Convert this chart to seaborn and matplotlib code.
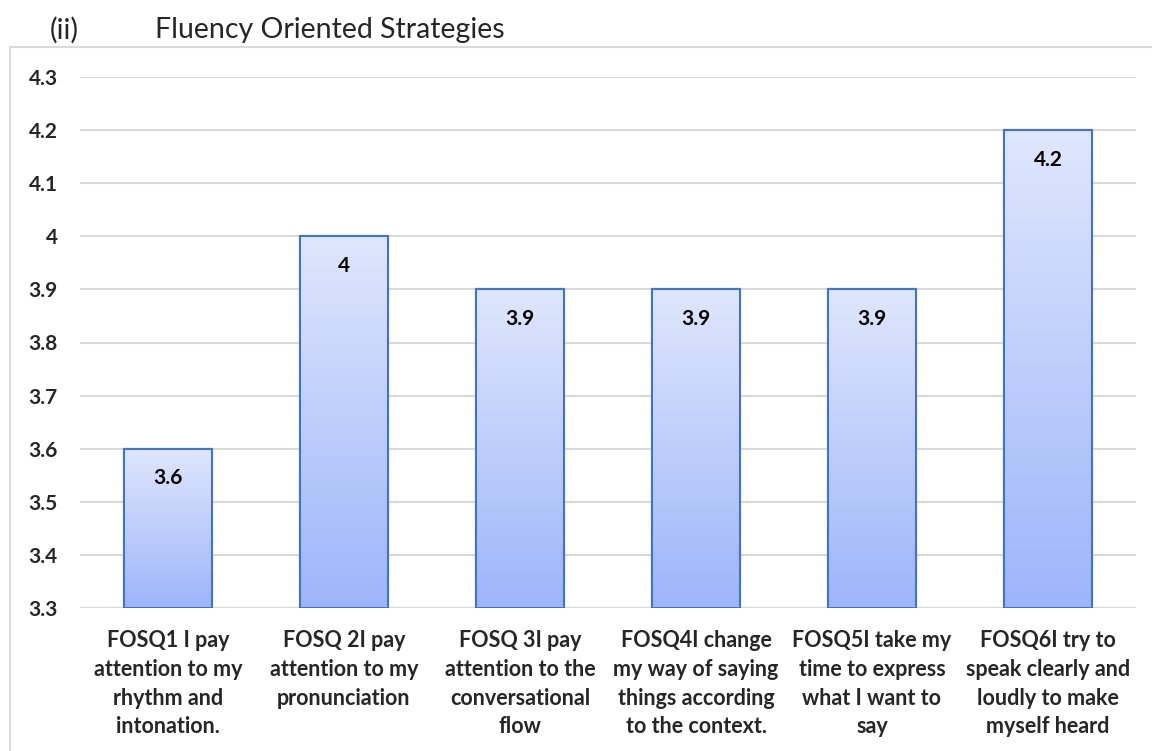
import numpy as np
import pandas as pd
import matplotlib
matplotlib.use('Agg')
import matplotlib.pyplot as plt
import seaborn as sns
from matplotlib.patches import Rectangle
from matplotlib.ticker import FuncFormatter

# data
questions = [
    'FOSQ1 I pay\nattention to my\nrhythm and\nintonation.',
    'FOSQ 2I pay\nattention to my\npronunciation',
    'FOSQ 3I pay\nattention to the\nconversational\nflow',
    'FOSQ4I change\nmy way of saying\nthings according\nto the context.',
    'FOSQ5I take my\ntime to express\nwhat I want to\nsay',
    'FOSQ6I try to\nspeak clearly and\nloudly to make\nmyself heard',
]
means = [3.6, 4.0, 3.9, 3.9, 3.9, 4.2]
y_ticks = [3.3, 3.4, 3.5, 3.6, 3.7, 3.8, 3.9, 4.0, 4.1, 4.2, 4.3]

df = pd.DataFrame({'question': questions, 'mean': means})

sns.set_theme(style='white')
plt.rcParams['font.family'] = ['Lato', 'DejaVu Sans']

fig = plt.figure(figsize=(11.52, 7.51), dpi=100)
ax = fig.add_axes([80 / 1152, 143 / 751, 1056 / 1152, 531 / 751])

sns.barplot(data=df, x='question', y='mean', ax=ax, width=0.5,
            color='#a0b8fb', edgecolor='#4472c4', linewidth=1.5, zorder=3)

ax.set_ylim(3.3, 4.3)
ax.set_yticks(y_ticks)
ax.yaxis.set_major_formatter(FuncFormatter(lambda v, p: f'{v:g}'))
ax.grid(axis='y', color='#d9d9d9', linewidth=1.5, zorder=0)
for s in ax.spines.values():
    s.set_visible(False)
ax.set_xlabel('')
ax.set_ylabel('')
ax.tick_params(axis='y', length=0, pad=16, labelsize=15)
ax.tick_params(axis='x', length=0, pad=16, labelsize=15.5)
for lbl in ax.get_yticklabels() + ax.get_xticklabels():
    lbl.set_fontweight('bold')
for lbl in ax.get_xticklabels():
    lbl.set_linespacing(1.45)

# gradient fill, light on top, darker at the bottom of each bar
grad = np.linspace(0, 1, 256).reshape(-1, 1)
cmap = matplotlib.colors.LinearSegmentedColormap.from_list('g', ['#9db5fa', '#dfe7fd'])
for bar, v in zip(ax.patches, means):
    x0, w = bar.get_x(), bar.get_width()
    im = ax.imshow(grad, extent=[x0, x0 + w, 3.3, v], origin='lower',
                   aspect='auto', cmap=cmap, zorder=3.5)
    im.set_clip_path(bar)
    ax.add_patch(Rectangle((x0, 3.3), w, v - 3.3, fill=False,
                           edgecolor='#4472c4', linewidth=1.5, zorder=4))
    ax.text(x0 + w / 2, v - 0.056, f'{v:g}', ha='center', va='center',
            fontsize=15, fontweight='bold', color='black', zorder=5)
ax.set_xlim(-0.5, len(means) - 0.5)

# outer chart border
fig.patches.append(Rectangle((10 / 1152, -0.05), 1.2, 1 - 47 / 751 + 0.05,
                             transform=fig.transFigure, fill=False,
                             edgecolor='#d9d9d9', linewidth=1.5))

fig.text(50 / 1152, 1 - 30 / 751, '(ii)', fontsize=20.5, va='center', ha='left')
fig.text(155 / 1152, 1 - 30 / 751, 'Fluency Oriented Strategies', fontsize=20.5,
         va='center', ha='left')

fig.savefig('out.png', dpi=100)
